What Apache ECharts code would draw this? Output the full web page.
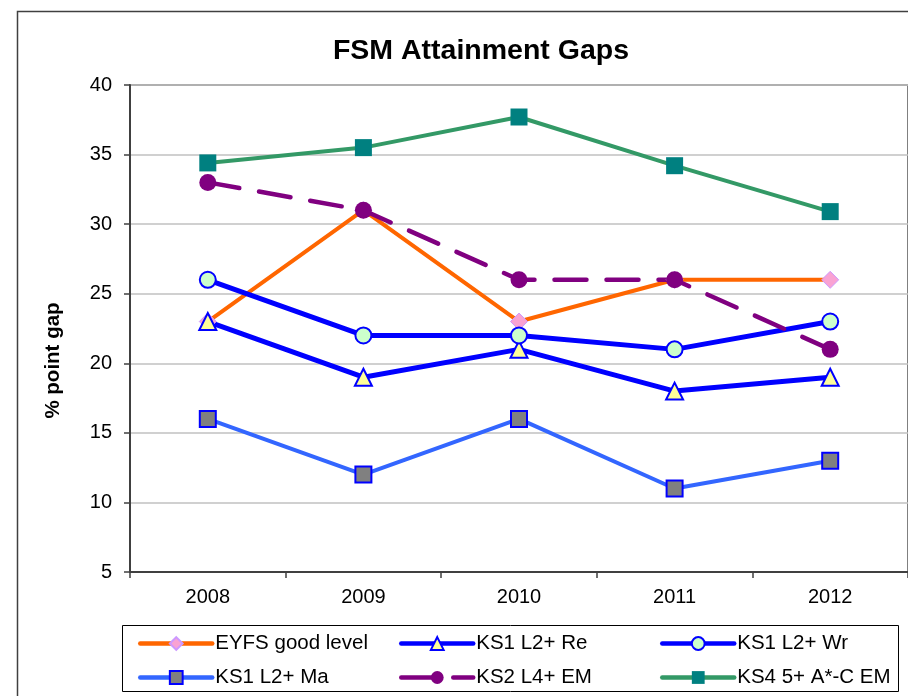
<!DOCTYPE html>
<html><head><meta charset="utf-8">
<script src="https://cdn.jsdelivr.net/npm/echarts@6/dist/echarts.min.js"></script>
<style>html,body{margin:0;padding:0;background:#fff}#c{width:908px;height:696px}</style>
</head><body><div id="c"></div>
<script>
const years = ['2008','2009','2010','2011','2012'];
const eyfs = [23, 31, 23, 26, 26];
const ks1Re = [23, 19, 21, 18, 19];
const ks1Wr = [26, 22, 22, 21, 23];
const ks1Ma = [16, 12, 16, 11, 13];
const ks2EM = [33, 31, 26, 26, 21];
const ks4EM = [34.4, 35.5, 37.7, 34.2, 30.9];
const names = ['EYFS good level','KS1 L2+ Re','KS1 L2+ Wr','KS1 L2+ Ma','KS2 L4+ EM','KS4 5+ A*-C EM'];

const FONT = '"Liberation Sans", Arial, sans-serif';
const chart = echarts.init(document.getElementById('c'), null, {renderer:'canvas'});

function mk(name, data, lineColor, width, type, symbol, size, fill, border, bw) {
  return {
    name, type:'line', data, symbol, symbolSize:size, showAllSymbol:true,
    lineStyle:{color:lineColor, width, type, cap:'round', join:'round'},
    itemStyle:{color:fill, borderColor:border, borderWidth:bw},
    emphasis:{disabled:true}, animation:false, z: 2
  };
}

const legendPos = [[138,633],[399,633],[660,633],[138,667],[399,667],[660,667]];
const legends = names.map((n,i)=>({
  data:[n], left:legendPos[i][0], top:legendPos[i][1], itemWidth:72, itemHeight:16, itemGap:0,
  textStyle:{fontFamily:FONT, fontSize:20.5, color:'#000', padding:[0,0,0,-2]},
  lineStyle:{width:4.5},
  selectedMode:false, padding:0
}));

chart.setOption({
  backgroundColor:'#fff',
  animation:false,
  title:{text:'FSM Attainment Gaps', left:476, textAlign:'center', top:32,
    textStyle:{fontFamily:FONT, fontSize:28.5, fontWeight:'bold', color:'#000'}},
  legend: legends,
  grid:{left:130, top:85, width:779, height:487, show:true, borderColor:'#808080', borderWidth:2, containLabel:false},
  xAxis:{type:'category', data:years, boundaryGap:true,
    axisLine:{lineStyle:{color:'#404040', width:2}},
    axisTick:{show:true, length:6, alignWithLabel:false, lineStyle:{color:'#404040', width:1.5}},
    axisLabel:{fontFamily:FONT, fontSize:20, color:'#000', margin:15}},
  yAxis:{type:'value', min:5, max:40, interval:5,
    name:'% point gap', nameLocation:'middle', nameGap:66, nameRotate:90,
    nameTextStyle:{fontFamily:FONT, fontSize:20.5, fontWeight:'bold', color:'#000', padding:[0,64,0,0]},
    axisLine:{show:true, lineStyle:{color:'#404040', width:2}},
    axisTick:{show:true, length:6, lineStyle:{color:'#404040', width:1.5}},
    axisLabel:{fontFamily:FONT, fontSize:20, color:'#000', margin:18},
    splitLine:{lineStyle:{color:'#C0C0C0', width:1.5}}},
  graphic:[
    {type:'rect', shape:{x:17.5, y:11.5, width:900, height:700}, style:{fill:null, stroke:'#404040', lineWidth:1.5}, silent:true, z:-10},
    {type:'rect', shape:{x:122.5, y:625.5, width:776, height:66}, style:{fill:null, stroke:'#000', lineWidth:1}, silent:true}
  ],
  series:[
    mk(names[0], eyfs, '#FF6600', 4, 'solid', 'diamond', 17, '#F9A3D3', '#CC99FF', 1),
    mk(names[1], ks1Re, '#0000FF', 5, 'solid', 'triangle', 17, '#FFFF99', '#0000FF', 2),
    mk(names[2], ks1Wr, '#0000FF', 5, 'solid', 'circle', 16, '#CCFFCC', '#0000FF', 2),
    mk(names[3], ks1Ma, '#3366FF', 4, 'solid', 'rect', 16, '#808080', '#0000FF', 2),
    mk(names[4], ks2EM, '#800080', 4.5, [32,20], 'circle', 17, '#800080', '#800080', 0),
    mk(names[5], ks4EM, '#339966', 4, 'solid', 'rect', 17, '#008080', '#008080', 0)
  ]
});
</script></body></html>
